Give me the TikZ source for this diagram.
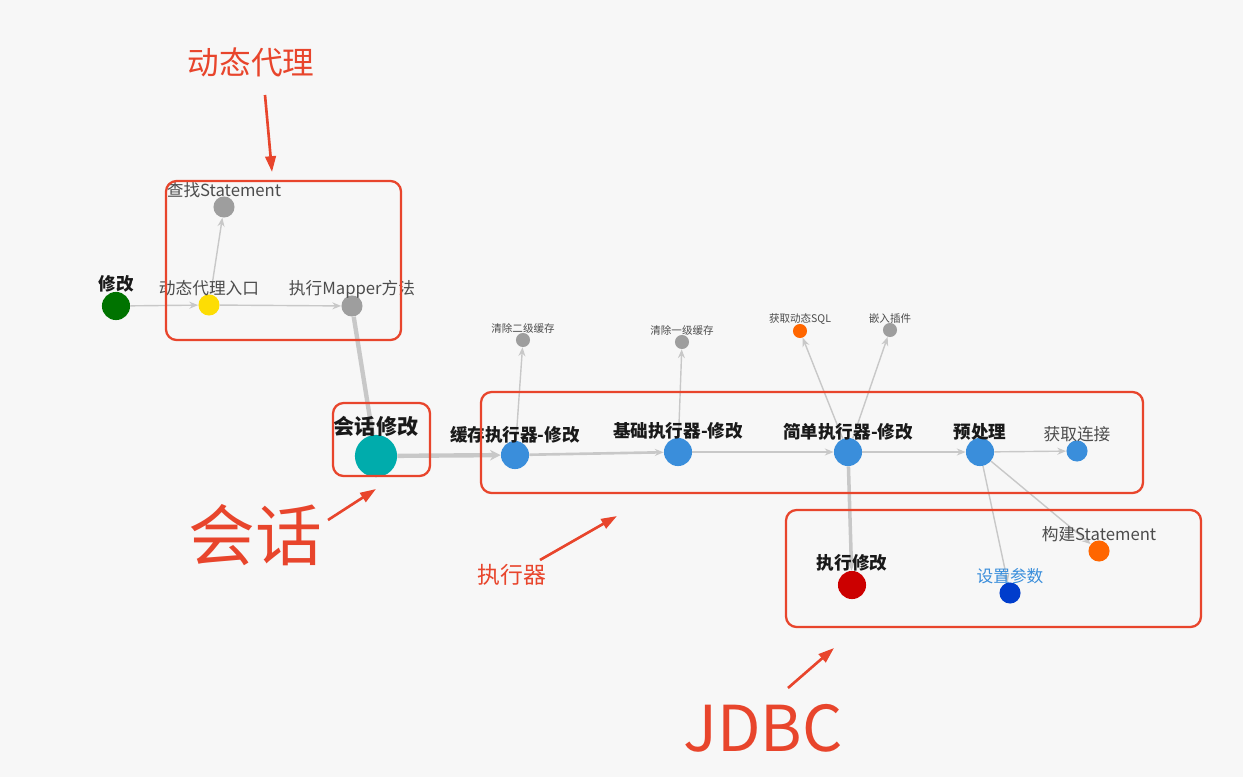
\documentclass[tikz,border=0pt]{standalone}
\usepackage{fontspec}
\setmainfont{Noto Sans CJK SC}
\usetikzlibrary{arrows.meta}
\definecolor{rd}{HTML}{E8452C}
\definecolor{nb}{HTML}{3A8EDB}
\definecolor{ng}{HTML}{9E9E9E}
\definecolor{ed}{HTML}{C8C8C8}
\tikzset{
 dot/.style={circle,inner sep=0pt,minimum size=#1},
 lab/.style={font=\fontsize{9.5}{10}\selectfont,text=black!70},
 tiny/.style={font=\fontsize{6}{7}\selectfont,text=black!70},
 blab/.style={font=\fontsize{10}{11}\selectfont\bfseries,text=black!90},
 link/.style={draw=ed,line width=0.8pt,-{Stealth[length=5pt,width=4pt]}},
 thick link/.style={draw=ed,line width=2.5pt},
 frame/.style={draw=rd,line width=1.3pt,rounded corners=6pt},
 ann/.style={text=rd},
 annarrow/.style={draw=rd,line width=1.5pt,-{Triangle[length=9pt,width=6pt]}}
}
\begin{document}
\begin{tikzpicture}[x=0.02cm,y=-0.02cm]
\useasboundingbox (0,0) rectangle (1243,777);
\fill[white!97!black] (0,0) rectangle (1243,777);
% nodes
\node[dot=20pt/1.25,fill=green!45!black] (m) at (116,306) {};
\node[dot=15pt/1.25,fill=yellow!80!orange] (dp) at (209,305) {};
\node[dot=15pt/1.25,fill=ng] (cz) at (224,207) {};
\node[dot=15pt/1.25,fill=ng] (em) at (352,306) {};
\node[dot=30pt/1.25,fill=teal!65!cyan] (hh) at (376,456) {};
\node[dot=20pt/1.25,fill=nb] (hc) at (515,455) {};
\node[dot=10pt/1.25,fill=ng] (q2) at (523,340) {};
\node[dot=20pt/1.25,fill=nb] (jc) at (678,452) {};
\node[dot=10pt/1.25,fill=ng] (q1) at (682,342) {};
\node[dot=20pt/1.25,fill=nb] (jd) at (848,452) {};
\node[dot=10pt/1.25,fill=orange!80!red] (sql) at (800,331) {};
\node[dot=10pt/1.25,fill=ng] (cj) at (890,330) {};
\node[dot=20pt/1.25,fill=nb] (ycl) at (980,452) {};
\node[dot=15pt/1.25,fill=nb] (lj) at (1077,451) {};
\node[dot=15pt/1.25,fill=orange!80!red] (gj) at (1099,551) {};
\node[dot=15pt/1.25,fill=blue!70!cyan!80!black] (sz) at (1010,593) {};
\node[dot=20pt/1.25,fill=red!80!black] (zx) at (852,585) {};
% edges
\draw[link] (m) -- (dp);
\draw[link] (dp) -- (em);
\draw[link] (dp) -- (cz);
\draw[thick link] (em) -- (hh);
\draw[thick link,-{Stealth[length=6pt,width=6pt]}] (hh) -- (hc);
\draw[link,line width=1.5pt] (hc) -- (jc);
\draw[link] (hc) -- (q2);
\draw[link,line width=1.5pt] (jc) -- (jd);
\draw[link] (jc) -- (q1);
\draw[link,line width=1.5pt] (jd) -- (ycl);
\draw[link] (jd) -- (sql);
\draw[link] (jd) -- (cj);
\draw[link,line width=2pt] (jd) -- (zx);
\draw[link] (ycl) -- (lj);
\draw[link] (ycl) -- (gj);
\draw[link] (ycl) -- (sz);
% labels
\node[blab] at (116,284) {修改};
\node[lab] at (209,288) {动态代理入口};
\node[lab] at (224,190) {查找Statement};
\node[lab] at (352,289) {执行Mapper方法};
\node[blab,font=\fontsize{12}{13}\selectfont\bfseries] at (376,426) {会话修改};
\node[blab] at (515,435) {缓存执行器-修改};
\node[tiny] at (523,328) {清除二级缓存};
\node[blab] at (678,431) {基础执行器-修改};
\node[tiny] at (682,330) {清除一级缓存};
\node[blab] at (848,432) {简单执行器-修改};
\node[tiny] at (800,319) {获取动态SQL};
\node[tiny] at (890,318) {嵌入插件};
\node[blab] at (980,432) {预处理};
\node[lab] at (1077,434) {获取连接};
\node[lab] at (1099,534) {构建Statement};
\node[lab,text=nb] at (1010,576) {设置参数};
\node[blab] at (852,563) {执行修改};
% frames
\draw[frame] (166,181) rectangle (401,340);
\draw[frame] (333,403) rectangle (430,476);
\draw[frame] (481,392) rectangle (1143,493);
\draw[frame] (786,510) rectangle (1201,627);
% annotations
\node[ann,font=\fontsize{18}{19}\selectfont] at (251,62) {动态代理};
\coordinate (a1s) at (265,95); \coordinate (a1e) at (272,172);
\draw[annarrow] (a1s) -- (a1e);
\node[ann,font=\fontsize{38}{40}\selectfont] at (255,535) {会话};
\coordinate (a2s) at (328,520); \coordinate (a2e) at (376,489);
\draw[annarrow] (a2s) -- (a2e);
\node[ann,font=\fontsize{13}{14}\selectfont] at (512,575) {执行器};
\coordinate (a3s) at (540,560); \coordinate (a3e) at (617,516);
\draw[annarrow] (a3s) -- (a3e);
\node[ann,font=\fontsize{36}{38}\selectfont] at (763,728) {JDBC};
\coordinate (a4s) at (788,688); \coordinate (a4e) at (834,648);
\draw[annarrow] (a4s) -- (a4e);
\end{tikzpicture}
\end{document}
